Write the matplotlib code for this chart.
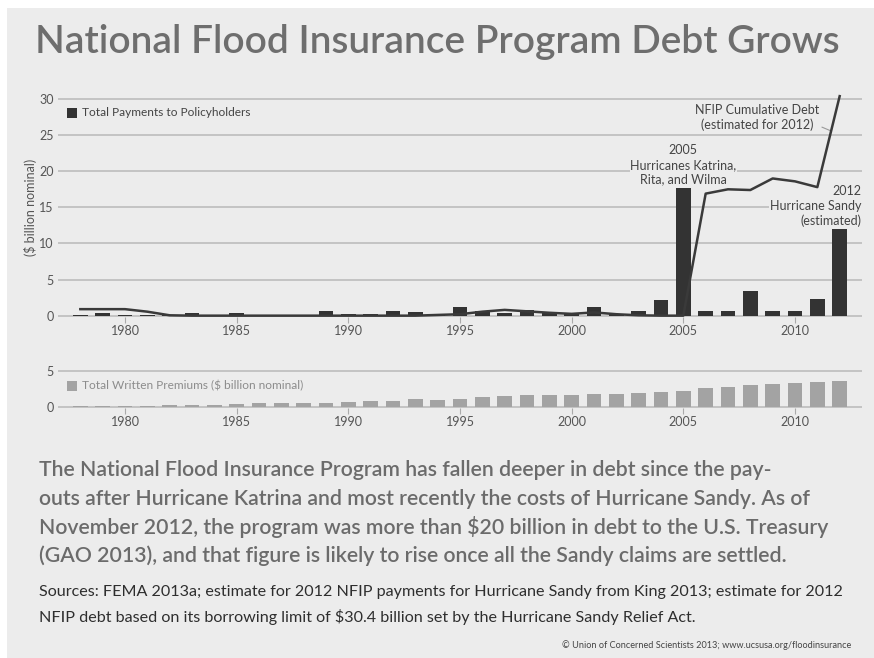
import matplotlib.pyplot as plt
from matplotlib.patches import Rectangle
import numpy as np

# Data ($ billion nominal)
years = list(range(1978, 2013))
payments = [0.05, 0.4, 0.1, 0.05, 0.05, 0.4, 0.1, 0.3, 0.05, 0.05,
            0.05, 0.65, 0.2, 0.2, 0.7, 0.5, 0.25, 1.2, 0.6, 0.35,
            0.75, 0.55, 0.3, 1.2, 0.25, 0.65, 2.1, 17.7, 0.65, 0.6,
            3.45, 0.7, 0.7, 2.3, 11.95]
debt = [0.9, 0.9, 0.9, 0.55, 0.05, 0.0, 0.0, 0.0, 0.0, 0.0,
        0.0, 0.0, 0.0, 0.0, 0.0, 0.0, 0.1, 0.2, 0.55, 0.8,
        0.6, 0.4, 0.25, 0.45, 0.2, 0.05, 0.0, 0.0, 16.9, 17.5,
        17.4, 19.0, 18.6, 17.8, 30.4]
premiums = [0.05, 0.08, 0.1, 0.15, 0.25, 0.3, 0.3, 0.35, 0.45, 0.5,
            0.5, 0.55, 0.65, 0.8, 0.8, 1.0, 0.95, 1.1, 1.3, 1.5,
            1.6, 1.65, 1.65, 1.7, 1.7, 1.85, 2.05, 2.2, 2.55, 2.8,
            3.0, 3.15, 3.35, 3.45, 3.6]
year_ticks = [1980, 1985, 1990, 1995, 2000, 2005, 2010]

BG = '#ececec'
W, H = 874, 658
plt.rcParams['font.family'] = ['Lato', 'DejaVu Sans']

fig = plt.figure(figsize=(8.74, 6.58), dpi=100, facecolor=BG)
# thin white margin top/left like the scan
fig.patches.append(Rectangle((0, 0), 7 / W, 1, transform=fig.transFigure, fc='white', ec='none'))
fig.patches.append(Rectangle((0, 1 - 8 / H), 1, 8 / H, transform=fig.transFigure, fc='white', ec='none'))


def px(x, y):
    return x / W, 1 - y / H


# ---- top panel: payments + debt ----
left, right = 58 / W, 862 / W
ax = fig.add_axes([left, (H - 317.1) / H, right - left, (317.1 - 97.6) / H])
ax.set_facecolor('none')
ax.bar(years, payments, width=0.66, color='#333333', zorder=3)
ax.plot(years, debt, color='#3a3a3a', lw=1.8, zorder=4, clip_on=False)
ax.set_xlim(1977, 2013)
ax.set_ylim(-0.2, 30.2)
ax.set_yticks(range(0, 31, 5))
ax.set_xticks(year_ticks)
ax.grid(axis='y', color='#bdbdbd', lw=1.2, zorder=0)
for s in ax.spines.values():
    s.set_visible(False)
ax.tick_params(axis='y', length=0, pad=3, labelsize=9, labelcolor='#555555')
ax.tick_params(axis='x', length=4, width=0.8, color='#aaaaaa', pad=1.5,
               labelsize=9, labelcolor='#555555')
ax.set_ylabel('($ billion nominal)', fontsize=9, color='#555555', labelpad=2)

box = dict(boxstyle='square,pad=0.05', fc=BG, ec='none')
ax.text(2005, 20.9, '2005\nHurricanes Katrina,\nRita, and Wilma', ha='center', va='center',
        fontsize=9, color='#444444', linespacing=1.25, bbox=box, zorder=3.5)
ax.text(2012.98, 15.2, '2012\nHurricane Sandy\n(estimated)', ha='right', va='center',
        fontsize=9, color='#444444', linespacing=1.25, bbox=box, zorder=3.5)
ax.annotate('NFIP Cumulative Debt\n(estimated for 2012)', xy=(2011.6, 25.6),
            xytext=(2008.3, 27.4), ha='center', va='center', fontsize=9,
            color='#444444', linespacing=1.25, zorder=3.5,
            arrowprops=dict(arrowstyle='-', color='#999999', lw=0.8,
                            shrinkA=0, shrinkB=0, relpos=(1.0, 0.2)))

# legend for payments
fig.patches.append(Rectangle(px(67, 118), 10 / W, 10 / H, transform=fig.transFigure,
                             fc='#333333', ec='none'))
fig.text(*px(82, 113), 'Total Payments to Policyholders', fontsize=8.6,
         color='#444444', va='center', ha='left')

# ---- bottom panel: premiums ----
ax2 = fig.add_axes([left, (H - 408.1) / H, right - left, (408.1 - 369.3) / H])
ax2.set_facecolor('none')
ax2.bar(years, premiums, width=0.66, color='#a3a3a3', zorder=3)
ax2.set_xlim(1977, 2013)
ax2.set_ylim(-0.2, 5.2)
ax2.set_yticks([0, 5])
ax2.set_xticks(year_ticks)
ax2.grid(axis='y', color='#bdbdbd', lw=1.2, zorder=0)
for s in ax2.spines.values():
    s.set_visible(False)
ax2.tick_params(axis='y', length=0, pad=3, labelsize=9, labelcolor='#555555')
ax2.tick_params(axis='x', length=4, width=0.8, color='#aaaaaa', pad=1.5,
                labelsize=9, labelcolor='#555555')

fig.patches.append(Rectangle(px(67, 391), 10 / W, 10 / H, transform=fig.transFigure,
                             fc='#a3a3a3', ec='none'))
fig.text(*px(82, 386), 'Total Written Premiums ($ billion nominal)', fontsize=8.6,
         color='#8c8c8c', va='center', ha='left')

# ---- text ----
fig.text(*px(437, 42), 'National Flood Insurance Program Debt Grows', ha='center', va='center',
         fontsize=28, fontweight='semibold', color='#6e6e6e')

para = ['The National Flood Insurance Program has fallen deeper in debt since the pay-',
        'outs after Hurricane Katrina and most recently the costs of Hurricane Sandy. As of',
        'November 2012, the program was more than $20 billion in debt to the U.S. Treasury',
        '(GAO 2013), and that figure is likely to rise once all the Sandy claims are settled.']
for i, line in enumerate(para):
    fig.text(*px(39, 470 + i * 28.7), line, ha='left', va='center', fontsize=15.3,
             fontweight='semibold', color='#6b6b6b')

sources = ['Sources: FEMA 2013a; estimate for 2012 NFIP payments for Hurricane Sandy from King 2013; estimate for 2012',
           'NFIP debt based on its borrowing limit of $30.4 billion set by the Hurricane Sandy Relief Act.']
for i, line in enumerate(sources):
    fig.text(*px(39, 592 + i * 25), line, ha='left', va='center', fontsize=11.6,
             color='#2e2e2e')

fig.text(*px(851, 645), '\u00a9 Union of Concerned Scientists 2013; www.ucsusa.org/floodinsurance',
         ha='right', va='center', fontsize=6.6, color='#444444')

fig.savefig('out.png', dpi=100, facecolor=BG)
